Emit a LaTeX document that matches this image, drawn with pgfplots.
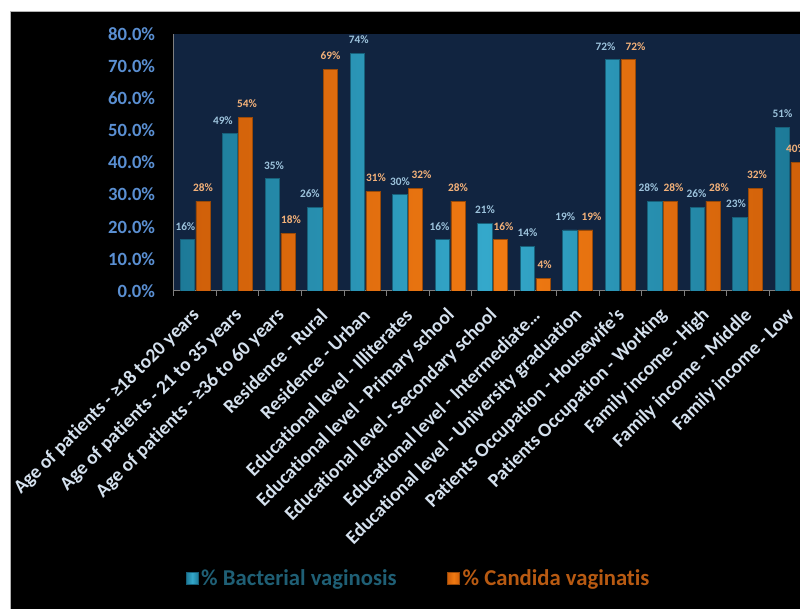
\documentclass[border=0pt]{standalone}
\usepackage{pgfplots}
\usepackage{pgfplotstable}
\pgfplotsset{compat=1.18}
\usepackage{fontspec}
\setmainfont{Carlito}[Ligatures={TeX,NoCommon}]
\definecolor{navy}{HTML}{112440}
\definecolor{tealmid}{HTML}{34A8CB}
\definecolor{tealdark}{HTML}{1D7A98}
\definecolor{tealedge}{HTML}{17607A}
\definecolor{orgmid}{HTML}{F07A12}
\definecolor{orgdark}{HTML}{D0600A}
\definecolor{orgedge}{HTML}{9A4A08}
\definecolor{ytickcol}{HTML}{5A8FD2}
\definecolor{catcol}{HTML}{D5E1EE}
\definecolor{bluelab}{HTML}{9DC3DC}
\definecolor{orglab}{HTML}{F4B27A}
\definecolor{legblue}{HTML}{1F5F75}
\definecolor{legorg}{HTML}{B85A12}
\definecolor{axgray}{HTML}{7F7F7F}
% dx = horizontal offset of the value label (px)
\pgfplotstableread{
x y dx
0 16 -2
1 49 -7
2 35 1.5
3 26 -5
4 74 1.4
5 30 0
6 16 -3
7 21 0
8 14 0
9 19 -4.7
10 72 -7
11 28 -6.5
12 26 -1
13 23 -4
14 51 0
}\bvdata
\pgfplotstableread{
x y dx
0 28 0
1 54 1.4
2 18 3
3 69 0
4 31 3
5 32 6
6 28 0
7 16 3
8 4 1.5
9 19 6
10 72 7.5
11 28 3
12 28 6
13 32 1.5
14 40 -2
}\cvdata
\begin{document}
\begin{tikzpicture}
\useasboundingbox (0,0) rectangle (600pt,456.75pt);
\fill[white] (0,0) rectangle (600pt,456.75pt);
\fill[black] (7.5pt,0) rectangle (600pt,447.75pt);
\draw[gray!60, line width=0.75pt] (7.5pt,0) -- (7.5pt,447.75pt) -- (600pt,447.75pt);
\clip (0,0) rectangle (600pt,456.75pt);
\begin{axis}[
  at={(130.5pt,238.5pt)}, anchor=south west,
  scale only axis, width=478.125pt, height=192.75pt,
  xmin=-0.5, xmax=14.5, ymin=0, ymax=80,
  /pgf/number format/assume math mode=true,
  axis background/.style={fill=navy},
  axis x line*=bottom, axis y line*=left,
  axis line style={-, draw=axgray, line width=0.75pt},
  ybar=1.1pt, bar width=10.7pt,
  xtick={0,...,14},
  minor xtick={-0.5,0.5,...,14.5},
  major tick length=0pt, minor tick length=3.75pt, tick align=outside,
  minor tick style={axgray, line width=0.75pt},
  ytick={0,10,...,80},
  ytick style={draw=none},
  yticklabels={0.0\%,10.0\%,20.0\%,30.0\%,40.0\%,50.0\%,60.0\%,70.0\%,80.0\%},
  yticklabel style={anchor=east, inner sep=0pt, xshift=-14pt, text=ytickcol, font=\bfseries\fontsize{14}{16}\selectfont},
  xticklabels={Age of patients - ≥18 to20 years, Age of patients - 21 to 35 years, Age of patients - ≥36 to 60 years, Residence - Rural, Residence - Urban, Educational level - Illiterates, Educational level - Primary school, Educational level - Secondary school, Educational level - Intermediate…, Educational level - University graduation, Patients Occupation - Housewife's, Patients Occupation - Working, Family income - High, Family income - Middle, Family income - Low},
  xticklabel style={yshift=-16pt, xshift=1pt, rotate=45, anchor=east, inner sep=0pt, text=catcol, font=\bfseries\fontsize{14.5}{16}\selectfont},
  nodes near coords={\pgfmathprintnumber[fixed,precision=0]{\pgfplotspointmeta}\%},
  visualization depends on={\thisrow{dx} \as \dx},
  every node near coord/.append style={font=\bfseries\fontsize{8.5}{9}\selectfont, yshift=3.5pt, xshift={0.75*\dx}},
  legend style={at={(0.012,-1.117)}, anchor=west, legend columns=2, draw=none, fill=none,
    font=\bfseries\fontsize{17}{19}\selectfont,
    /tikz/every even column/.append style={column sep=36pt}},
  legend image code/.code={\draw[#1] (0pt,-4.5pt) rectangle (9pt,4.5pt);},
]
\addplot[draw=tealedge, line width=0.5pt, left color=tealdark, right color=tealdark, middle color=tealmid,
  every node near coord/.append style={text=bluelab}]
  table[x=x, y=y] {\bvdata};
\addlegendentry{\textcolor{legblue}{\% Bacterial vaginosis}}
\addplot[draw=orgedge, line width=0.5pt, left color=orgdark, right color=orgdark, middle color=orgmid,
  every node near coord/.append style={text=orglab}]
  table[x=x, y=y] {\cvdata};
\addlegendentry{\textcolor{legorg}{\% Candida vaginatis}}
\end{axis}
\end{tikzpicture}
\end{document}
